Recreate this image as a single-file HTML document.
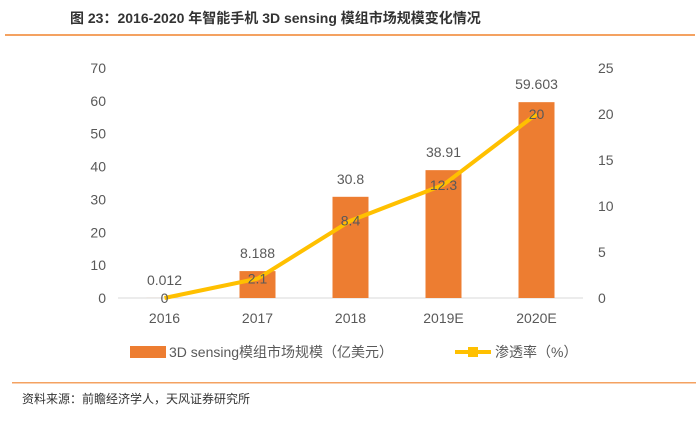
<!DOCTYPE html>
<html><head><meta charset="utf-8"><style>
body{margin:0;background:#fff;width:700px;height:418px;overflow:hidden;font-family:"Liberation Sans","Noto Sans CJK SC",sans-serif}
svg text{font-family:"Liberation Sans","Noto Sans CJK SC",sans-serif}
</style></head><body>
<svg id="c" width="700" height="418">
<text x="70" y="23" font-size="14" font-weight="bold" fill="#333">图 23：2016-2020 年智能手机 3D sensing 模组市场规模变化情况</text>
<rect x="5" y="34" width="690" height="2" fill="#f4a261"/>
<rect x="12" y="382" width="684" height="1.5" fill="#f4a261"/>
<text x="22" y="403" font-size="12" fill="#333">资料来源：前瞻经济学人，天风证券研究所</text>
<g id="plot"></g>
<g>
<rect x="130" y="346" width="36" height="12" fill="#ed7d31"/>
<text x="169" y="357" font-size="14" fill="#595959">3D sensing模组市场规模（亿美元）</text>
<line x1="455" y1="352" x2="491" y2="352" stroke="#ffc000" stroke-width="4"/>
<rect x="468" y="347" width="10" height="10" fill="#ffc000"/>
<text x="495" y="357" font-size="14" fill="#595959">渗透率（%）</text>
</g>
</svg>
<script>
const categories=["2016","2017","2018","2019E","2020E"];
const marketSize=[0.012,8.188,30.8,38.91,59.603];
const marketLabels=["0.012","8.188","30.8","38.91","59.603"];
const penetration=[0,2.1,8.4,12.3,20];
const leftTicks=[0,10,20,30,40,50,60,70];
const rightTicks=[0,5,10,15,20,25];
const NS="http://www.w3.org/2000/svg";
const g=document.getElementById("plot");
const x0=118,x1=583,yb=298,yt=68;
const band=(x1-x0)/categories.length;
const xc=i=>x0+band*(i+0.5);
const yL=v=>yb-(v/70)*(yb-yt);
const yR=v=>yb-(v/25)*(yb-yt);
function mk(t,a){const e=document.createElementNS(NS,t);for(const k in a)e.setAttribute(k,a[k]);g.appendChild(e);return e;}
leftTicks.forEach(v=>{const t=mk("text",{x:106,y:yL(v)+5,"font-size":14,fill:"#595959","text-anchor":"end"});t.textContent=v;

});
rightTicks.forEach(v=>{const t=mk("text",{x:598,y:yR(v)+5,"font-size":14,fill:"#595959"});t.textContent=v;

});
const ax=mk("line",{x1:x0,y1:yb,x2:x1,y2:yb,stroke:"#d9d9d9","stroke-width":1});


categories.forEach((c,i)=>{
const v=marketSize[i];
const r=mk("rect",{x:xc(i)-18,y:yL(v),width:36,height:yb-yL(v),fill:"#ed7d31"});


const l=mk("text",{x:xc(i),y:yL(v)-13,"font-size":14,fill:"#595959","text-anchor":"middle"});l.textContent=marketLabels[i];


const t=mk("text",{x:xc(i),y:yb+25,"font-size":14,fill:"#595959","text-anchor":"middle"});t.textContent=c;


});
const pl=mk("polyline",{points:penetration.map((v,i)=>xc(i)+","+yR(v)).join(" "),fill:"none",stroke:"#ffc000","stroke-width":4,"stroke-linejoin":"round"});


penetration.forEach((v,i)=>{
const t=mk("text",{x:xc(i),y:yR(v)+5,"font-size":14,fill:"#595959","text-anchor":"middle"});t.textContent=v;


});
</script>
</body></html>
